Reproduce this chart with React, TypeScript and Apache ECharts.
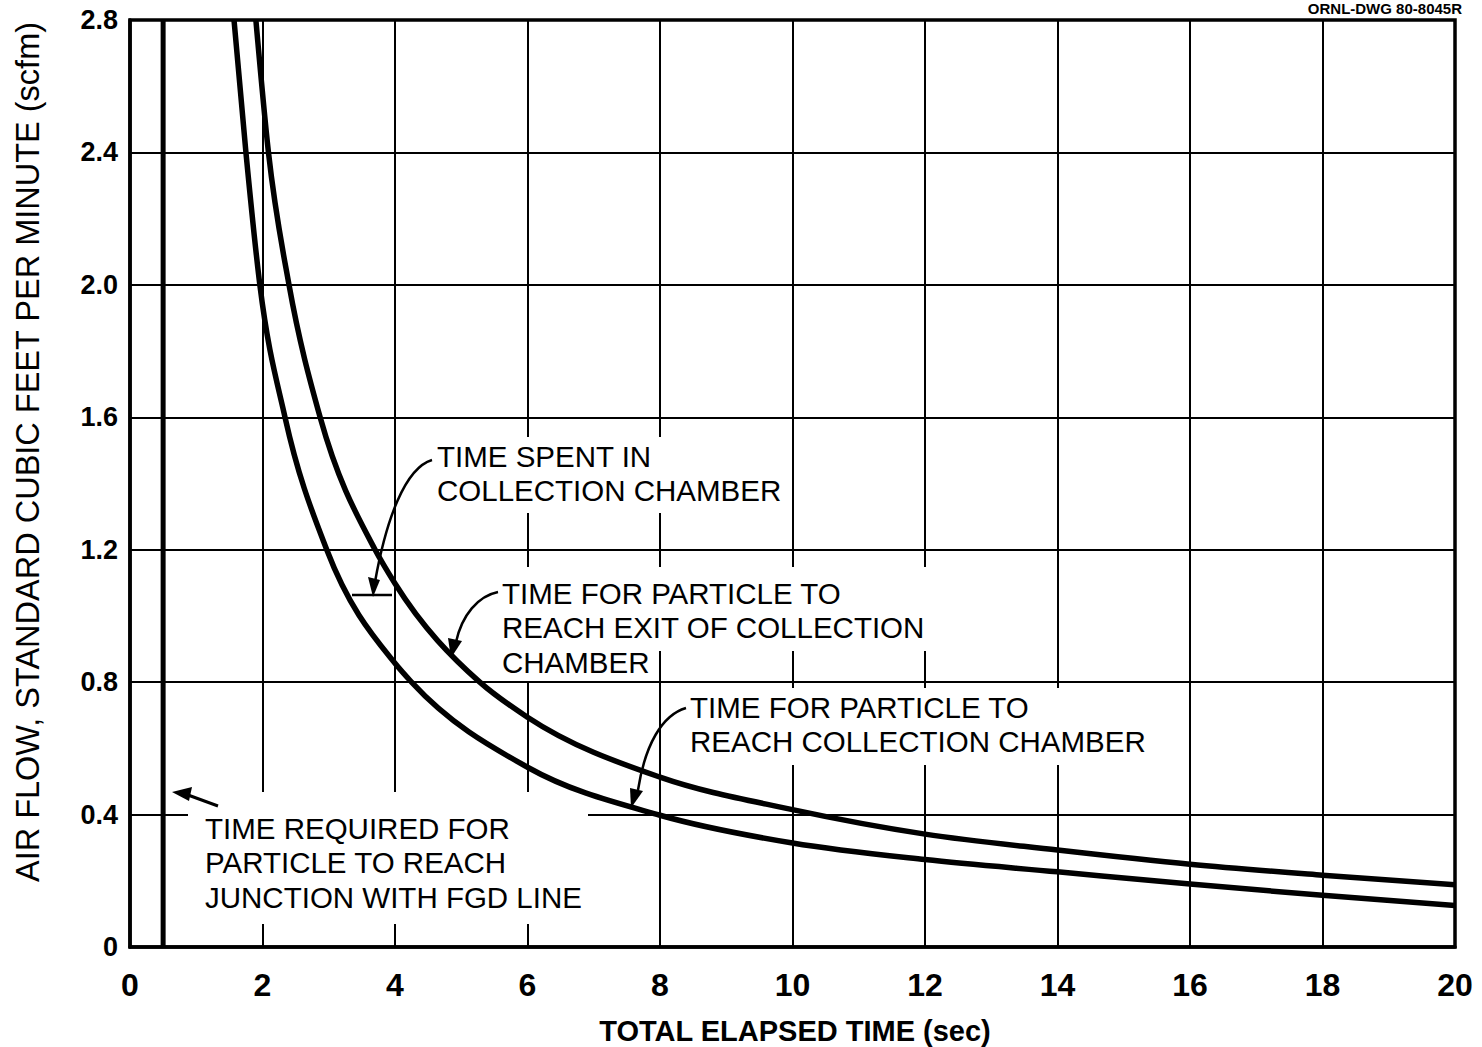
import React, { useEffect, useRef } from 'react';
import * as echarts from 'echarts';

// ---- data ----
// Curve: time for particle to reach EXIT of collection chamber (upper curve)
const exitTimeX = [1.9, 2.09, 2.4, 2.87, 3.7, 4.0, 5.28, 6, 8, 10, 12, 14, 16, 18, 20];
const exitFlowY = [2.8, 2.4, 2.0, 1.6, 1.2, 1.098, 0.8, 0.694, 0.513, 0.415, 0.341, 0.293, 0.25, 0.217, 0.188];
// Curve: time for particle to reach collection chamber (lower curve)
const reachTimeX = [1.57, 1.75, 1.96, 2.34, 2.97, 4.0, 4.25, 6, 8, 10, 12, 14, 16, 18, 20];
const reachFlowY = [2.8, 2.4, 2.0, 1.6, 1.2, 0.857, 0.8, 0.543, 0.398, 0.314, 0.264, 0.227, 0.19, 0.156, 0.125];
// Time required to reach junction with FGD line
const junctionTime = [0.5, 0.5];
const junctionFlow = [0, 2.8];

const xTickLabels = ['0', '2', '4', '6', '8', '10', '12', '14', '16', '18', '20'];
const yTickLabels = ['0', '0.4', '0.8', '1.2', '1.6', '2.0', '2.4', '2.8'];

const X_TITLE = 'TOTAL ELAPSED TIME (sec)';
const Y_TITLE = 'AIR FLOW, STANDARD CUBIC FEET PER MINUTE (scfm)';
const HEADER = 'ORNL-DWG 80-8045R';
const NOTE_SPENT = 'TIME SPENT IN\nCOLLECTION CHAMBER';
const NOTE_EXIT = 'TIME FOR PARTICLE TO\nREACH EXIT OF COLLECTION\nCHAMBER';
const NOTE_REACH = 'TIME FOR PARTICLE TO\nREACH COLLECTION CHAMBER';
const NOTE_JUNCTION = 'TIME REQUIRED FOR\nPARTICLE TO REACH\nJUNCTION WITH FGD LINE';

const FONT = '"Liberation Sans", Arial, sans-serif';
const INK = '#000';

function pairs(xs: number[], ys: number[]) {
  return xs.map((x, i) => [x, ys[i]]);
}

// monotone cubic (Fritsch–Carlson style) path through pixel points, x increasing
function monotonePath(p: number[][]): string {
  const n = p.length;
  const h: number[] = [];
  const s: number[] = [];
  for (let i = 0; i < n - 1; i++) {
    h[i] = p[i + 1][0] - p[i][0];
    s[i] = (p[i + 1][1] - p[i][1]) / h[i];
  }
  const m: number[] = new Array(n).fill(0);
  for (let i = 1; i < n - 1; i++) {
    const pp = (s[i - 1] * h[i] + s[i] * h[i - 1]) / (h[i - 1] + h[i]);
    m[i] =
      (Math.sign(s[i - 1]) + Math.sign(s[i])) *
        Math.min(Math.abs(s[i - 1]), Math.abs(s[i]), 0.5 * Math.abs(pp)) || 0;
  }
  m[0] = (3 * s[0] - m[1]) / 2;
  m[n - 1] = (3 * s[n - 2] - m[n - 2]) / 2;
  let d = `M${p[0][0]},${p[0][1]}`;
  for (let i = 0; i < n - 1; i++) {
    const dx = h[i] / 3;
    d += ` C${p[i][0] + dx},${p[i][1] + m[i] * dx} ${p[i + 1][0] - dx},${p[i + 1][1] - m[i + 1] * dx} ${p[i + 1][0]},${p[i + 1][1]}`;
  }
  return d;
}

export default function App() {
  const ref = useRef<HTMLDivElement>(null);

  useEffect(() => {
    if (!ref.current) return;
    const chart = echarts.init(ref.current, undefined, { renderer: 'svg' });

    const noteStyle = (text: string) => ({
      text,
      fill: INK,
      font: `29.5px ${FONT}`,
      lineHeight: 34.5,
      align: 'left',
      verticalAlign: 'top',
    });

    const whiteBox = (x: number, y: number, w: number, h: number) => ({
      type: 'rect',
      z: 1,
      shape: { x, y, width: w, height: h },
      style: { fill: '#fff' },
      silent: true,
    });

    const leader = (x1: number, y1: number, cx1: number, cy1: number, cx2: number, cy2: number, x2: number, y2: number) => ({
      type: 'bezierCurve',
      z: 5,
      shape: { x1, y1, cpx1: cx1, cpy1: cy1, cpx2: cx2, cpy2: cy2, x2, y2 },
      style: { stroke: INK, lineWidth: 2.5, fill: 'none' },
    });

    const head = (pts: number[][]) => ({
      type: 'polygon',
      z: 5,
      shape: { points: pts },
      style: { fill: INK },
    });

    const curve = (name: string, xs: number[], ys: number[]) => ({
      name,
      type: 'custom',
      data: pairs(xs, ys),
      encode: { x: 0, y: 1 },
      clip: true,
      z: 3,
      renderItem: (params: any, api: any) => {
        if (params.dataIndex !== 0) return null;
        const pts = xs.map((x, i) => api.coord([x, ys[i]]));
        return {
          type: 'path',
          shape: { pathData: monotonePath(pts) },
          style: { stroke: INK, lineWidth: 5.5, fill: 'none', lineJoin: 'round', lineCap: 'butt' },
        };
      },
    });

    const option: any = {
      animation: false,
      backgroundColor: '#fff',
      grid: {
        left: 130,
        right: 27,
        top: 20,
        bottom: 100,
        show: true,
        borderColor: INK,
        borderWidth: 3.5,
        backgroundColor: 'transparent',
      },
      xAxis: {
        type: 'value',
        min: 0,
        max: 20,
        interval: 2,
        axisLine: { show: true, lineStyle: { color: INK, width: 3.5 } },
        axisTick: { show: false },
        splitLine: { show: true, lineStyle: { color: INK, width: 2 } },
        axisLabel: {
          color: INK,
          fontFamily: FONT,
          fontWeight: 'bold',
          fontSize: 32,
          margin: 22,
          showMinLabel: true,
          showMaxLabel: true,
          formatter: (v: number) => xTickLabels[Math.round(v / 2)] ?? '',
        },
      },
      yAxis: {
        type: 'value',
        min: 0,
        max: 2.8,
        interval: 0.4,
        axisLine: { show: true, lineStyle: { color: INK, width: 3.5 } },
        axisTick: { show: false },
        splitLine: { show: true, lineStyle: { color: INK, width: 2 } },
        axisLabel: {
          color: INK,
          fontFamily: FONT,
          fontWeight: 'bold',
          fontSize: 27,
          margin: 12,
          showMinLabel: true,
          showMaxLabel: true,
          formatter: (v: number) => yTickLabels[Math.round(v / 0.4)] ?? '',
        },
      },
      series: [
        {
          name: 'junction',
          type: 'line',
          data: pairs(junctionTime, junctionFlow),
          symbol: 'none',
          lineStyle: { color: INK, width: 5 },
          z: 3,
        },
        curve('exit', exitTimeX, exitFlowY),
        curve('reach', reachTimeX, reachFlowY),
      ],
      graphic: [
        // white areas behind the notes (they break the grid lines)
        whiteBox(430, 437, 360, 76),
        whiteBox(495, 567, 435, 84),
        whiteBox(495, 640, 152, 41),
        whiteBox(683, 688, 467, 77),
        whiteBox(188, 792, 400, 132),
        // notes
        { type: 'text', z: 10, x: 437, y: 439, style: noteStyle(NOTE_SPENT) },
        { type: 'text', z: 10, x: 502, y: 576, style: noteStyle(NOTE_EXIT) },
        { type: 'text', z: 10, x: 690, y: 690, style: noteStyle(NOTE_REACH) },
        { type: 'text', z: 10, x: 205, y: 811, style: noteStyle(NOTE_JUNCTION) },
        // leaders
        leader(432, 460, 405, 468, 386, 520, 375, 582),
        head([[373, 597], [368, 577], [380, 580]]),
        { type: 'line', z: 5, shape: { x1: 352, y1: 595, x2: 392, y2: 595 }, style: { stroke: INK, lineWidth: 2.5 } },
        leader(498, 592, 478, 596, 462, 615, 456, 642),
        head([[451, 658], [448, 638], [462, 641]]),
        leader(686, 708, 662, 715, 645, 745, 638, 790),
        head([[631, 808], [630, 788], [643, 791]]),
        { type: 'line', z: 5, shape: { x1: 218, y1: 806, x2: 188, y2: 795 }, style: { stroke: INK, lineWidth: 3 } },
        head([[172, 792], [192, 787], [189, 801]]),
        // axis titles
        {
          type: 'text',
          z: 10,
          x: 28,
          y: 452,
          rotation: Math.PI / 2,
          style: {
            text: Y_TITLE,
            fill: INK,
            font: `32.5px ${FONT}`,
            align: 'center',
            verticalAlign: 'middle',
          },
        },
        {
          type: 'text',
          z: 10,
          x: 795,
          y: 1031,
          style: {
            text: X_TITLE,
            fill: INK,
            font: `bold 29px ${FONT}`,
            align: 'center',
            verticalAlign: 'middle',
          },
        },
        {
          type: 'text',
          z: 10,
          x: 1462,
          y: 1,
          style: {
            text: HEADER,
            fill: INK,
            font: `bold 15px ${FONT}`,
            align: 'right',
            verticalAlign: 'top',
          },
        },
      ],
    };

    chart.setOption(option);
    return () => chart.dispose();
  }, []);

  return (
    <div
      ref={ref}
      style={{ position: 'absolute', left: 0, top: 0, width: 1482, height: 1047, background: '#fff' }}
    />
  );
}
